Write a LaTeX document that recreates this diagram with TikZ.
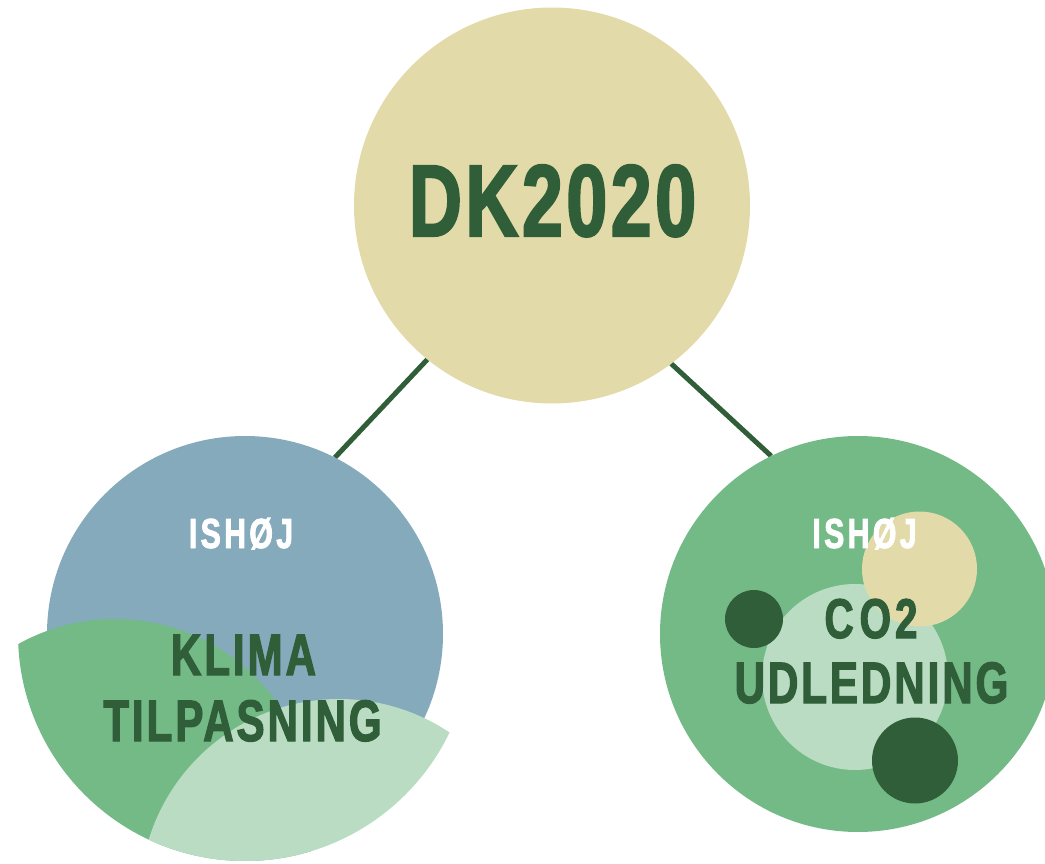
\documentclass[tikz,border=0pt]{standalone}
\usepackage{fontspec}
\newfontfamily\cnd[FakeStretch=0.72,FakeBold=2]{Liberation Sans}
\usetikzlibrary{backgrounds}
\definecolor{cTan}{RGB}{226,218,168}
\definecolor{cDark}{RGB}{47,94,57}
\definecolor{cBlue}{RGB}{132,170,188}
\definecolor{cMid}{RGB}{116,186,135}
\definecolor{cLight}{RGB}{185,220,194}
\begin{document}
\begin{tikzpicture}[x=1pt,y=-1pt,
  disc/.style={circle, inner sep=0pt, outer sep=0pt, minimum size=#1},
  link/.style={draw=cDark, line width=5pt},
  lbl/.style={anchor=base, inner sep=0pt, text=cDark},
  big/.style={lbl, font=\cnd\bfseries\fontsize{102pt}{110pt}\selectfont\addfontfeature{LetterSpace=3.5}},
  mid/.style={lbl, font=\cnd\bfseries\fontsize{58.5pt}{64pt}\selectfont\addfontfeature{LetterSpace=5}},
  town/.style={lbl, text=white, font=\cnd\bfseries\fontsize{42pt}{46pt}\selectfont\addfontfeature{LetterSpace=8}}]
\clip (0,0) rectangle (1045,864);
% main circles
\node[disc=396pt, fill=cTan] (top) at (552,205.5) {};
\node[disc=396pt, fill=cBlue] (left) at (245,634) {};
\node[disc=396pt, fill=cMid] (right) at (858,634) {};
% connectors
\begin{scope}[on background layer]
\draw[link] (top.231.6) -- (left.63.8);
\draw[link] (top.307.7) -- (right.116.8);
\end{scope}
% left decorative leaves
\begin{scope}
\clip (245,634) circle (227pt);
\fill[cMid] (115,818) circle (199pt);
\fill[cLight] (339,898) circle (199pt);
\end{scope}
% right decorative bubbles
\node[disc=186pt, fill=cLight] (bubA) at (855,677) {};
\node[disc=115pt, fill=cTan] (bubB) at (919.5,569) {};
\node[disc=58pt, fill=cDark] (bubC) at (754,619) {};
\node[disc=86pt, fill=cDark] (bubD) at (915,760.5) {};
% texts
\node[big] (tDK) at (552.5,236) {DK2020};
\node[town] (tIshL) at (241,548) {ISHØJ};
\node[mid] (tKlima) at (243.5,675) {KLIMA};
\node[mid] (tTilp) at (242.5,741) {TILPASNING};
\node[town] (tIshR) at (864.5,548) {ISHØJ};
\node[lbl, font=\cnd\bfseries\fontsize{56pt}{62pt}\selectfont] (tCO) at (871,638) {C\kern6pt O\kern4pt 2};
\node[mid] (tUdl) at (871.5,703) {UDLEDNING};
\end{tikzpicture}
\end{document}
